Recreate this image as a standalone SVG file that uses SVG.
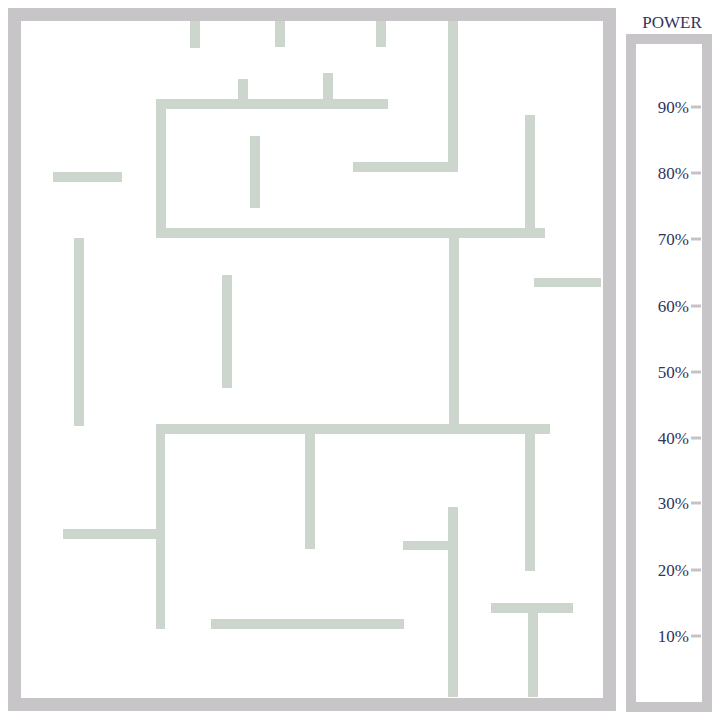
<svg xmlns="http://www.w3.org/2000/svg" width="720" height="720" viewBox="0 0 720 720">
<style>
.frame{fill:none;stroke:#c8c5c8;}
.wall{fill:#cdd6cd;}
.tick{stroke:#c6c3c6;stroke-width:3;}
.lbl{font-family:"Liberation Serif","DejaVu Serif",serif;font-size:17px;fill:#2e3560;text-anchor:end;}
.title{font-family:"Liberation Serif","DejaVu Serif",serif;font-size:17px;fill:#2e3560;text-anchor:middle;}
</style>
<rect width="720" height="720" fill="#ffffff"/>
<g id="maze-frame">
<rect class="frame" x="14.5" y="14.5" width="595" height="690" stroke-width="13"/>
</g>
<g id="walls">
<rect class="wall" x="190" y="21" width="10" height="27"/>
<rect class="wall" x="275" y="21" width="10" height="26"/>
<rect class="wall" x="376" y="21" width="10" height="26"/>
<rect class="wall" x="448" y="21" width="10" height="151"/>
<rect class="wall" x="353" y="162" width="105" height="10"/>
<rect class="wall" x="156" y="99" width="232" height="10"/>
<rect class="wall" x="238" y="79" width="10" height="20"/>
<rect class="wall" x="323" y="73" width="10" height="26"/>
<rect class="wall" x="156" y="99" width="10" height="139"/>
<rect class="wall" x="250" y="136" width="10" height="72"/>
<rect class="wall" x="156" y="228" width="389" height="10"/>
<rect class="wall" x="525" y="115" width="10" height="113"/>
<rect class="wall" x="53" y="172" width="69" height="10"/>
<rect class="wall" x="534" y="278" width="67" height="9"/>
<rect class="wall" x="74" y="238" width="10" height="188"/>
<rect class="wall" x="222" y="275" width="10" height="113"/>
<rect class="wall" x="449" y="238" width="10" height="186"/>
<rect class="wall" x="156" y="424" width="394" height="10"/>
<rect class="wall" x="156" y="424" width="9" height="205"/>
<rect class="wall" x="63" y="529" width="93" height="10"/>
<rect class="wall" x="305" y="434" width="10" height="115"/>
<rect class="wall" x="525" y="434" width="10" height="137"/>
<rect class="wall" x="448" y="507" width="10" height="190"/>
<rect class="wall" x="403" y="541" width="45" height="9"/>
<rect class="wall" x="211" y="619" width="193" height="10"/>
<rect class="wall" x="491" y="603" width="82" height="10"/>
<rect class="wall" x="528" y="613" width="10" height="84"/>
</g>
<g id="power-meter">
<text class="title" x="672" y="28">POWER</text>
<rect class="frame" x="631" y="39" width="76" height="668" stroke-width="10"/>
<line class="tick" x1="691" y1="107" x2="701" y2="107"/>
<line class="tick" x1="691" y1="173" x2="701" y2="173"/>
<line class="tick" x1="691" y1="239" x2="701" y2="239"/>
<line class="tick" x1="691" y1="306" x2="701" y2="306"/>
<line class="tick" x1="691" y1="372" x2="701" y2="372"/>
<line class="tick" x1="691" y1="438" x2="701" y2="438"/>
<line class="tick" x1="691" y1="503" x2="701" y2="503"/>
<line class="tick" x1="691" y1="570" x2="701" y2="570"/>
<line class="tick" x1="691" y1="636" x2="701" y2="636"/>
<text class="lbl" x="689" y="113">90%</text>
<text class="lbl" x="689" y="179">80%</text>
<text class="lbl" x="689" y="245">70%</text>
<text class="lbl" x="689" y="312">60%</text>
<text class="lbl" x="689" y="378">50%</text>
<text class="lbl" x="689" y="444">40%</text>
<text class="lbl" x="689" y="509">30%</text>
<text class="lbl" x="689" y="576">20%</text>
<text class="lbl" x="689" y="642">10%</text>
</g>
</svg>
